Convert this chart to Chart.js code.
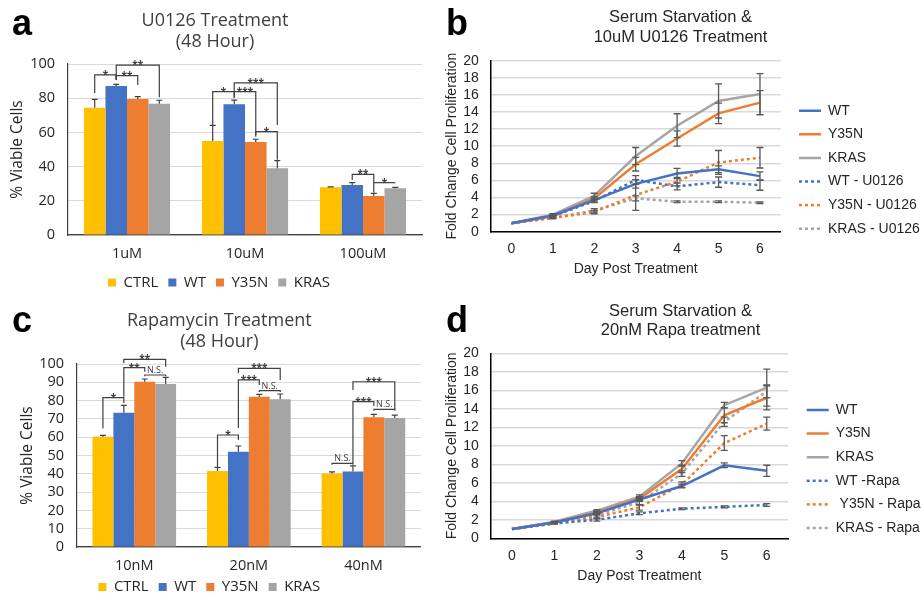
<!DOCTYPE html>
<html>
<head>
<meta charset="utf-8">
<script src="https://cdn.jsdelivr.net/npm/chart.js@4.4.1/dist/chart.umd.min.js"></script>
<style>
  body { margin: 0; background: #fff; }
  #page { position: relative; width: 921px; height: 597px; overflow: hidden; }
  canvas { position: absolute; }
  .tag { position: absolute; font: bold 36px 'Liberation Sans', Arial, sans-serif; line-height: 1; color: #000; }
</style>
</head>
<body>
<div id="page">
  <canvas id="chartA" width="440" height="300" style="left:0;top:0"></canvas>
  <canvas id="chartB" width="481" height="300" style="left:440px;top:0"></canvas>
  <canvas id="chartC" width="440" height="297" style="left:0;top:300px"></canvas>
  <canvas id="chartD" width="481" height="297" style="left:440px;top:300px"></canvas>
  <div class="tag" style="left:12px;top:5px">a</div>
  <div class="tag" style="left:446px;top:5px">b</div>
  <div class="tag" style="left:12px;top:302px">c</div>
  <div class="tag" style="left:446px;top:302px">d</div>
</div>
<script>
// ---- panel a: U0126, 48 h viability ----
const u0126Doses = ["1uM", "10uM", "100uM"];
const u0126Ctrl = [74.4, 55, 27.9];
const u0126CtrlErr = [4.9, 9.1, 0.3];
const u0126Wt = [87.1, 76.4, 29.2];
const u0126WtErr = [1, 2.5, 1.4];
const u0126Y35n = [79.5, 54.4, 22.8];
const u0126Y35nErr = [1.4, 1.6, 1.6];
const u0126Kras = [76.8, 39, 27.3];
const u0126KrasErr = [2, 4.5, 0.6];
// [category, from series, to series, bracket top, left leg end, right leg end, label]
const u0126Sig = [
    [0, 0, 1, 93.6, 83, 90.6, "*"],
    [0, 1, 2, 93.2, 90.6, 87.7, "**"],
    [0, 1, 3, 99.4, 91, 80.5, "**"],
    [1, 0, 1, 83.8, 64.3, 80.3, "*"],
    [1, 1, 2, 83.8, 80.3, 58.5, "***"],
    [1, 1, 3, 89, 83.8, 64.3, "***"],
    [1, 2, 3, 60.4, 57.5, 44, "*"],
    [2, 1, 2, 35.5, 32.2, 24.8, "**"],
    [2, 2, 3, 30.6, 30.6, 30.6, "*"],
];

// ---- panel c: rapamycin, 48 h viability ----
const rapaDoses = ["10nM", "20nM", "40nM"];
const rapaCtrl = [60.3, 41.5, 40.1];
const rapaCtrlErr = [0.7, 2, 0.9];
const rapaWt = [73.4, 52.1, 41.2];
const rapaWtErr = [4, 3.1, 3.1];
const rapaY35n = [90.3, 82.1, 70.9];
const rapaY35nErr = [1.5, 1.3, 1.6];
const rapaKras = [89.1, 80.7, 70.5];
const rapaKrasErr = [3.6, 2.9, 1.6];
const rapaSig = [
    [0, 0, 1, 81.6, 64.8, 78.5, "*"],
    [0, 1, 2, 98, 82.1, 95.8, "**"],
    [0, 1, 3, 102.5, 100.4, 98.5, "**"],
    [0, 2, 3, 94, 93.3, 93.3, "N.S."],
    [1, 0, 1, 61.2, 43.9, 58.5, "*"],
    [1, 1, 2, 91.3, 65, 88.5, "***"],
    [1, 1, 3, 97.6, 94.9, 91.3, "***"],
    [1, 2, 3, 85.4, 84.7, 84.7, "N.S."],
    [2, 0, 1, 45.7, 45, 45, "N.S."],
    [2, 1, 2, 79.4, 45.9, 77, "***"],
    [2, 1, 3, 90.3, 85.8, 74.9, "***"],
    [2, 2, 3, 75.2, 74.5, 74.5, "N.S."],
];

// ---- panels b and d: fold change by day ----
const days = ["0", "1", "2", "3", "4", "5", "6"];

const uWt = [1, 1.9, 3.7, 5.6, 6.8, 7.3, 6.5];
const uWtErr = [0, 0.1, 0.2, 0.5, 0.6, 0.4, 0.5];
const uY35n = [1, 1.8, 3.9, 7.9, 10.9, 13.85, 15.1];
const uY35nErr = [0, 0.1, 0.2, 0.8, 0.9, 1.2, 1.4];
const uKras = [1, 2.0, 4.2, 8.85, 12.4, 15.3, 16.1];
const uKrasErr = [0, 0.1, 0.3, 1.0, 1.4, 2.0, 2.4];
const uWtTreated = [1, 1.8, 3.6, 6.05, 5.3, 5.8, 5.45];
const uWtTreatedErr = [0, 0.1, 0.2, 0.5, 0.4, 0.6, 0.6];
const uY35nTreated = [1, 1.6, 2.3, 4.3, 5.85, 8.1, 8.65];
const uY35nTreatedErr = [0, 0.1, 0.2, 1.8, 0.5, 1.4, 1.2];
const uKrasTreated = [1, 1.6, 2.5, 3.9, 3.5, 3.5, 3.4];
const uKrasTreatedErr = [0, 0.05, 0.2, 0.3, 0.1, 0.1, 0.1];

const rWt = [1, 1.7, 2.7, 4.2, 5.65, 7.9, 7.3];
const rWtErr = [0, 0.05, 0.1, 0.2, 0.2, 0.25, 0.6];
const rY35n = [1, 1.7, 2.8, 4.3, 7.5, 13.3, 15.2];
const rY35nErr = [0, 0.05, 0.1, 0.2, 0.4, 0.8, 1.3];
const rKras = [1, 1.8, 3.0, 4.5, 8.1, 14.4, 16.3];
const rKrasErr = [0, 0.05, 0.1, 0.2, 0.3, 0.3, 2.0];
const rWtTreated = [1, 1.6, 2.0, 2.7, 3.2, 3.4, 3.6];
const rWtTreatedErr = [0, 0.05, 0.15, 0.15, 0.1, 0.1, 0.15];
const rY35nTreated = [1, 1.6, 2.3, 3.35, 5.8, 10.3, 12.4];
const rY35nTreatedErr = [0, 0.05, 0.2, 0.3, 0.3, 0.8, 0.7];
const rKrasTreated = [1, 1.7, 2.5, 3.9, 7.0, 12.6, 15.9];
const rKrasTreatedErr = [0, 0.05, 0.2, 0.3, 0.3, 0.5, 0.7];

const YELLOW = "#FFC000";
const BLUE = "#4472C4";
const ORANGE = "#ED7D31";
const GREY = "#A5A5A5";
const OPEN = "'Open Sans', sans-serif";
const ARIAL = "'Liberation Sans', Arial, sans-serif";

// error bars: plus-only for bars, both ways for lines
const errorBars = {
    id: "errorBars",
    afterDatasetsDraw(chart, args, opts) {
        const { ctx } = chart;
        const y = chart.scales.y;
        ctx.save();
        ctx.strokeStyle = opts.color;
        ctx.lineWidth = opts.width;
        chart.data.datasets.forEach((ds, i) => {
            if (!ds.errors) return;
            chart.getDatasetMeta(i).data.forEach((el, j) => {
                const v = ds.data[j];
                const e = ds.errors[j];
                if (!e) return;
                const hi = y.getPixelForValue(v + e);
                const lo = y.getPixelForValue(opts.both ? v - e : v);
                ctx.beginPath();
                ctx.moveTo(el.x, lo);
                ctx.lineTo(el.x, hi);
                ctx.moveTo(el.x - opts.cap, hi);
                ctx.lineTo(el.x + opts.cap, hi);
                if (opts.both) {
                    ctx.moveTo(el.x - opts.cap, lo);
                    ctx.lineTo(el.x + opts.cap, lo);
                }
                ctx.stroke();
            });
        });
        ctx.restore();
    },
};

const sigBrackets = {
    id: "sigBrackets",
    afterDatasetsDraw(chart, args, opts) {
        if (!opts.items) return;
        const { ctx } = chart;
        const y = chart.scales.y;
        ctx.save();
        ctx.strokeStyle = "#404040";
        ctx.fillStyle = "#404040";
        ctx.lineWidth = 1.2;
        ctx.textAlign = "center";
        ctx.textBaseline = "alphabetic";
        opts.items.forEach(([cat, a, b, top, endA, endB, label]) => {
            const xa = chart.getDatasetMeta(a).data[cat].x;
            const xb = chart.getDatasetMeta(b).data[cat].x;
            const yt = y.getPixelForValue(top);
            ctx.beginPath();
            ctx.moveTo(xa, y.getPixelForValue(endA));
            ctx.lineTo(xa, yt);
            ctx.lineTo(xb, yt);
            ctx.lineTo(xb, y.getPixelForValue(endB));
            ctx.stroke();
            if (label === "N.S.") {
                ctx.font = "9px " + OPEN;
                ctx.fillText(label, (xa + xb) / 2, yt - 2);
            } else {
                ctx.font = "bold 10px " + OPEN;
                ctx.fillText(label, (xa + xb) / 2, yt + 3);
            }
        });
        ctx.restore();
    },
};

// nudges the legend box after layout so it sits where the figure has it
const legendShift = {
    id: "legendShift",
    afterLayout(chart, args, opts) {
        const l = chart.legend;
        if (!l) return;
        const dx = opts.dx || 0;
        const dy = opts.dy || 0;
        l.left += dx; l.right += dx;
        l.top += dy; l.bottom += dy;
    },
};

const lineLegendLabels = (chart) => {
    const items = Chart.defaults.plugins.legend.labels.generateLabels(chart);
    items.forEach((it) => {
        const ds = chart.data.datasets[it.datasetIndex];
        it.lineDash = ds.borderDash || [];
        it.lineWidth = ds.borderWidth;
        it.strokeStyle = ds.borderColor;
        it.pointStyle = "line";
    });
    return items;
};

const createViabilityChart = (id, opts) => {
    new Chart(document.getElementById(id), {
        type: "bar",
        data: {
            labels: opts.labels,
            datasets: [
                { label: "CTRL", data: opts.ctrl, errors: opts.ctrlErr, backgroundColor: YELLOW },
                { label: "WT", data: opts.wt, errors: opts.wtErr, backgroundColor: BLUE },
                { label: "Y35N", data: opts.y35n, errors: opts.y35nErr, backgroundColor: ORANGE },
                { label: "KRAS", data: opts.kras, errors: opts.krasErr, backgroundColor: GREY },
            ],
        },
        options: {
            responsive: false,
            animation: false,
            events: [],
            layout: { padding: opts.padding },
            datasets: { bar: { categoryPercentage: 0.73, barPercentage: 1 } },
            plugins: {
                title: {
                    display: true,
                    text: opts.title,
                    color: "#404040",
                    font: { family: OPEN, size: 18, weight: "normal", lineHeight: 1.15 },
                    padding: opts.titlePadding,
                },
                legend: {
                    position: "bottom",
                    labels: {
                        boxWidth: 8,
                        boxHeight: 8,
                        padding: 10,
                        color: "#262626",
                        font: { family: OPEN, size: 15 },
                    },
                },
                tooltip: { enabled: false },
                errorBars: { color: "#404040", width: 1.2, cap: 3, both: false },
                sigBrackets: { items: opts.sig },
                legendShift: opts.legendShift,
            },
            scales: {
                x: {
                    grid: { display: false, drawTicks: false },
                    border: { display: true, color: "#404040", width: 1.3 },
                    ticks: { color: "#262626", padding: 10, font: { family: OPEN, size: 14.5 } },
                    afterFit: (s) => { s.height = 30; },
                },
                y: {
                    min: 0,
                    max: 100,
                    ticks: { stepSize: opts.step, autoSkip: false, color: "#262626", padding: 13, font: { family: OPEN, size: 14.5 } },
                    grid: { color: "#d9d9d9", drawTicks: false },
                    border: { display: true, color: "#404040", width: 1.2 },
                    title: {
                        display: true,
                        text: "% Viable Cells",
                        color: "#262626",
                        font: { family: OPEN, size: 15.5 },
                        padding: { top: 0, bottom: 0 },
                    },
                    afterFit: (s) => { s.width = opts.yWidth; },
                },
            },
        },
        plugins: [errorBars, sigBrackets, legendShift],
    });
};

const lineSet = (label, data, errors, color, dotted) => ({
    label: label,
    data: data,
    errors: errors,
    borderColor: color,
    backgroundColor: color,
    borderWidth: 2.5,
    borderDash: dotted ? [3, 3] : [],
    pointRadius: 0,
    pointHoverRadius: 0,
    pointStyle: "line",
    tension: 0,
});

const createGrowthChart = (id, opts) => {
    new Chart(document.getElementById(id), {
        type: "line",
        data: { labels: days, datasets: opts.datasets },
        options: {
            responsive: false,
            animation: false,
            events: [],
            layout: { padding: { left: 0, right: 0, top: 0, bottom: opts.bottomPad } },
            plugins: {
                title: {
                    display: true,
                    text: opts.title,
                    color: "#262626",
                    font: { family: ARIAL, size: 16.5, weight: "normal", lineHeight: 1.18 },
                    padding: opts.titlePadding,
                },
                legend: {
                    position: "right",
                    align: "start",
                    maxWidth: opts.legendWidth,
                    labels: {
                        usePointStyle: true,
                        pointStyleWidth: 22,
                        padding: 9.6,
                        color: "#262626",
                        font: { family: ARIAL, size: 14 },
                        generateLabels: lineLegendLabels,
                    },
                },
                tooltip: { enabled: false },
                errorBars: { color: "#595959", width: 1.3, cap: 3.5, both: true },
                legendShift: opts.legendShift,
            },
            scales: {
                x: {
                    offset: true,
                    grid: { display: false, drawTicks: false },
                    border: { display: true, color: "#000", width: 1.5 },
                    ticks: { color: "#262626", padding: 9, font: { family: ARIAL, size: 14 } },
                    title: {
                        display: true,
                        text: "Day Post Treatment",
                        color: "#262626",
                        font: { family: ARIAL, size: 14 },
                        padding: { top: 0, bottom: 0 },
                    },
                    afterFit: (s) => { s.height = 46; },
                },
                y: {
                    min: 0,
                    max: 20,
                    ticks: { stepSize: 2, autoSkip: false, color: "#262626", padding: 12, font: { family: ARIAL, size: 14 } },
                    grid: { color: "#d9d9d9", lineWidth: 1.5, drawTicks: false },
                    border: { display: true, color: "#000", width: 1.5 },
                    title: {
                        display: true,
                        text: "Fold Change Cell Proliferation",
                        color: "#262626",
                        font: { family: ARIAL, size: 14 },
                        padding: { top: 3.6, bottom: 0 },
                    },
                    afterFit: (s) => { s.width = 50.7; },
                },
            },
        },
        plugins: [errorBars, legendShift],
    });
};

(function() {
    createViabilityChart("chartA", {
        labels: u0126Doses,
        ctrl: u0126Ctrl, ctrlErr: u0126CtrlErr,
        wt: u0126Wt, wtErr: u0126WtErr,
        y35n: u0126Y35n, y35nErr: u0126Y35nErr,
        kras: u0126Kras, krasErr: u0126KrasErr,
        sig: u0126Sig,
        title: ["U0126 Treatment", "(48 Hour)"],
        titlePadding: { top: 11, bottom: 11.6 },
        padding: { left: 8, right: 18, top: 0, bottom: 0 },
        yWidth: 60,
        step: 20,
        legendShift: { dx: 4, dy: 0 },
    });
    createViabilityChart("chartC", {
        labels: rapaDoses,
        ctrl: rapaCtrl, ctrlErr: rapaCtrlErr,
        wt: rapaWt, wtErr: rapaWtErr,
        y35n: rapaY35n, y35nErr: rapaY35nErr,
        kras: rapaKras, krasErr: rapaKrasErr,
        sig: rapaSig,
        title: ["Rapamycin Treatment", "(48 Hour)"],
        titlePadding: { top: 10.5, bottom: 12.1 },
        // the plot reaches lower in c, so the legend hangs partly past the edge and is pulled back up
        padding: { left: 18, right: 19.3, top: 0, bottom: -15 },
        yWidth: 59,
        step: 10,
        legendShift: { dx: -10, dy: -7.5 },
    });
    createGrowthChart("chartB", {
        title: ["Serum Starvation &", "10uM U0126 Treatment"],
        titlePadding: { top: 7.8, bottom: 14 },
        bottomPad: 22.3,
        legendWidth: 140.3,
        legendShift: { dx: 8.7, dy: 94.1 },
        datasets: [
            lineSet("WT", uWt, uWtErr, BLUE, false),
            lineSet("Y35N", uY35n, uY35nErr, ORANGE, false),
            lineSet("KRAS", uKras, uKrasErr, GREY, false),
            lineSet("WT - U0126", uWtTreated, uWtTreatedErr, BLUE, true),
            lineSet("Y35N - U0126", uY35nTreated, uY35nTreatedErr, ORANGE, true),
            lineSet("KRAS - U0126", uKrasTreated, uKrasTreatedErr, GREY, true),
        ],
    });
    createGrowthChart("chartD", {
        title: ["Serum Starvation &", "20nM Rapa treatment"],
        titlePadding: { top: 1.25, bottom: 13.2 },
        bottomPad: 12.7,
        legendWidth: 133,
        legendShift: { dx: 9.1, dy: 93.4 },
        datasets: [
            lineSet("WT", rWt, rWtErr, BLUE, false),
            lineSet("Y35N", rY35n, rY35nErr, ORANGE, false),
            lineSet("KRAS", rKras, rKrasErr, GREY, false),
            lineSet("WT -Rapa", rWtTreated, rWtTreatedErr, BLUE, true),
            lineSet(" Y35N - Rapa", rY35nTreated, rY35nTreatedErr, ORANGE, true),
            lineSet("KRAS - Rapa", rKrasTreated, rKrasTreatedErr, GREY, true),
        ],
    });
})();
</script>
</body>
</html>
